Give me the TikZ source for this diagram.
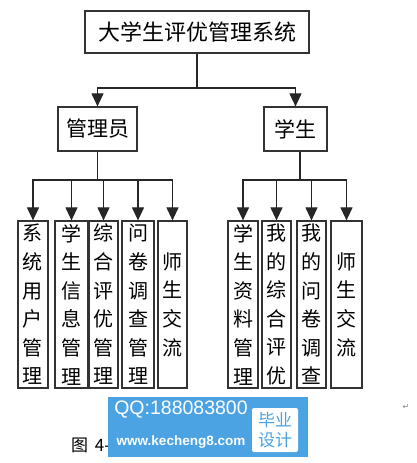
\documentclass[tikz,border=0pt]{standalone}
\usepackage{fontspec}
\newfontfamily\cjk{Noto Sans CJK SC}
\newfontfamily\wmfont{Liberation Sans}
\newfontfamily\symfont{DejaVu Sans}
\usetikzlibrary{arrows.meta}
\definecolor{wmblue}{RGB}{75,163,227}
\begin{document}
\begin{tikzpicture}[x=1pt,y=-1pt,
  box/.style={draw=black!80, line width=1.2pt, inner sep=0pt, align=center,
    font=\cjk\fontsize{20}{28.6}\selectfont},
  leaf/.style={box, minimum height=167pt},
  conn/.style={line width=1.1pt, black!85},
  arr/.style={conn, -{Triangle[width=12pt,length=13pt]}}]
\useasboundingbox (0,0) rectangle (416,463);
% top levels
\node[box, minimum width=224pt, minimum height=42pt, font=\cjk\fontsize{22}{24}\selectfont] (top) at (197,32) {大学生评优管理系统};
\node[box, minimum width=79pt, minimum height=44pt, font=\cjk\fontsize{21}{24}\selectfont] (adm) at (97.5,129) {管理员};
\node[box, minimum width=63pt, minimum height=44pt, font=\cjk\fontsize{21}{24}\selectfont] (stu) at (295.5,129) {学生};
% leaves (admin)
\node[leaf, minimum width=30pt] (a1) at (33,304.5) {系\\统\\用\\户\\管\\理};
\node[leaf, minimum width=33pt] (a2) at (71.5,304.5) {学\\生\\信\\息\\管\\理};
\node[leaf, minimum width=29pt] (a3) at (103.5,304.5) {综\\合\\评\\优\\管\\理};
\node[leaf, minimum width=32pt] (a4) at (138,304.5) {问\\卷\\调\\查\\管\\理};
\node[leaf, minimum width=29pt] (a5) at (172.5,304.5) {师\\生\\交\\流};
% leaves (student)
\node[leaf, minimum width=30pt] (b1) at (243,304.5) {学\\生\\资\\料\\管\\理};
\node[leaf, minimum width=29pt] (b2) at (276.5,304.5) {我\\的\\综\\合\\评\\优};
\node[leaf, minimum width=29pt] (b3) at (311.5,304.5) {我\\的\\问\\卷\\调\\查};
\node[leaf, minimum width=31pt] (b4) at (346.5,304.5) {师\\生\\交\\流};
% connectors
\coordinate (j0) at (197,88);
\draw[conn] (top.south) -- (j0);
\draw[arr] (j0) -| (adm.north);
\draw[arr] (j0) -| (stu.north);
\coordinate (ja) at (97.5,180);
\draw[conn] (adm.south) -- (ja);
\foreach \n in {a1,a2,a3,a4,a5} \draw[arr] (ja) -| (\n.north);
\coordinate (jb) at (300,180);
\draw[conn] (stu.south -| jb) -- (jb);
\foreach \n in {b1,b2,b3,b4} \draw[arr] (jb) -| (\n.north);
% caption (partly covered)
\node[anchor=west, inner sep=0pt, font=\cjk\fontsize{17}{20}\selectfont] (cap) at (71,445) {图\, 4-};
\node[inner sep=0pt, text=gray, font=\symfont\fontsize{8}{8}\selectfont] (ret) at (406,407) {↵};
% watermark
\node[fill=wmblue, minimum width=200pt, minimum height=60pt, inner sep=0pt] (wm) at (208,427) {};
\node[text=white, inner sep=0pt, font=\wmfont\fontsize{19.5}{20}\selectfont] (qq) at (181,410) {QQ:188083800};
\node[text=white, inner sep=0pt, font=\wmfont\bfseries\fontsize{13.5}{14}\selectfont] (url) at (181,442) {www.kecheng8.com};
\node[fill=white, rounded corners=2pt, minimum width=46pt, minimum height=44pt, inner sep=0pt,
  text=wmblue, align=center, font=\cjk\fontsize{17}{20}\selectfont] (by) at (275,430) {毕业\\设计};
\end{tikzpicture}
\end{document}
